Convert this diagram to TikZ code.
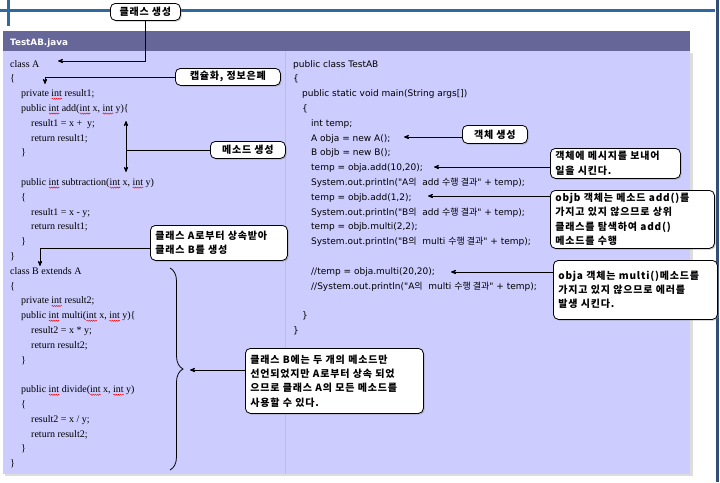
\documentclass[tikz,border=0pt]{standalone}
\usepackage{fontspec}
\setmainfont{Liberation Serif}
\newfontfamily\verd{DejaVu Sans}
\newfontfamily\krfont{Noto Sans CJK KR}
\newfontfamily\krbold{Noto Sans CJK KR}[LetterSpace=8]
\usetikzlibrary{arrows,shadows,decorations.pathreplacing,decorations.pathmorphing}
\definecolor{barblue}{RGB}{47,105,160}
\definecolor{edgeblue}{RGB}{50,78,120}
\definecolor{titlebar}{RGB}{102,102,153}
\definecolor{panel}{RGB}{204,204,255}
\definecolor{panelshade}{RGB}{221,221,221}
\definecolor{divider}{RGB}{190,190,215}
\newlength\sqlen
\newcommand\sq[1]{\settowidth\sqlen{#1}\rlap{\tikz[baseline=0pt]\draw[red, line width=0.45pt,
  decorate, decoration={snake, amplitude=0.6pt, segment length=2.2pt}]
  (0pt,-2.2pt) -- (\sqlen,-2.2pt);}#1}
\newcommand\ko[1]{{\krfont #1}}
\tikzset{
  codeL/.style = {anchor=base west, inner sep=0pt, font=\fontsize{10}{12}\selectfont},
  codeR/.style = {anchor=base west, inner sep=0pt, font=\verd\fontsize{9}{11}\selectfont},
  callout/.style = {draw=black, fill=white, thick, rounded corners=5pt,
    anchor=north west, inner xsep=5pt, inner ysep=0pt,
    font=\krbold\bfseries\fontsize{10}{14.3}\selectfont,
    drop shadow={shadow xshift=1.2pt, shadow yshift=-1.2pt, fill=black!45}},% bulle
  ptr/.style = {->, >=stealth', thick, black}
}
\begin{document}
\begin{tikzpicture}[x=1pt,y=-1pt]
\useasboundingbox (0,0) rectangle (720,482);
% cadre
\fill[barblue] (0,9) rectangle (715,12);
\fill[barblue] (7,0) rectangle (10,26);
\fill[edgeblue] (716,0) rectangle (719,482);
\fill[panelshade] (5,53) rectangle (693,476);
\fill[panel] (3,51) rectangle (690,474);
\fill[titlebar] (3,31) rectangle (690,51);
\draw[divider] (285,51) -- (285,474);
\node[anchor=base west, inner sep=0pt, text=white,
  font=\verd\bfseries\fontsize{8.8}{10}\selectfont] (title) at (10,45) {TestAB.java};

% code gauche
\foreach \row/\x/\txt in {
  0/10/{class A}, 1/10/{\{}, 2/21/{private \sq{int} result1;},
  3/21/{public \sq{int} add(\sq{int} x, \sq{int} y)\{}, 4/31/{result1 = x + \ y;},
  5/31/{return result1;}, 6/21/{\}},
  8/21/{public \sq{int} subtraction(\sq{int} x, \sq{int} y)}, 9/21/{\{},
  10/31/{result1 = x - y;}, 11/31/{return result1;}, 12/21/{\}}, 13/10/{\}},
  14/10/{class B extends A}, 15/10/{\{}, 16/21/{private \sq{int} result2;},
  17/21/{public \sq{int} multi(\sq{int} x, \sq{int} y)\{}, 18/31/{result2 = x * y;},
  19/31/{return result2;}, 20/21/{\}},
  22/21/{public \sq{int} divide(\sq{int} x, \sq{int} y)}, 23/21/{\{},
  24/31/{result2 = x / y;}, 25/31/{return result2;}, 26/21/{\}}, 27/10/{\}}}
  \node[codeL] (l\row) at (\x,{67+14.8*\row}) {\txt};

% code droite
\foreach \row/\x/\txt in {
  0/293/{public class TestAB}, 1/293/{\{},
  2/302/{public static void main(String args[])}, 3/302/{\{},
  4/311/{int temp;}, 5/311/{A obja = new A();}, 6/311/{B objb = new B();},
  7/311/{temp = obja.add(10,20);},
  8/311/{System.out.println("A\ko{의} \ add \ko{수행 결과}" + temp);},
  9/311/{temp = objb.add(1,2);},
  10/311/{System.out.println("B\ko{의} \ add \ko{수행 결과}" + temp);},
  11/311/{temp = objb.multi(2,2);},
  12/311/{System.out.println("B\ko{의} \ multi \ko{수행 결과}" + temp);},
  14/311/{//temp = obja.multi(20,20);},
  15/311/{//System.out.println("A\ko{의} \ multi \ko{수행 결과}" + temp);},
  17/302/{\}}, 18/293/{\}}}
  \node[codeR] (r\row) at (\x,{67+14.8*\row}) {\txt};

% bulles
\node[callout, minimum width=70pt, minimum height=17pt] (cls) at (110,3) {클래스 생성};
\node[callout, minimum width=105pt, minimum height=17pt] (caps) at (175,68) {캡슐화, 정보은폐};
\node[callout, minimum width=75pt, minimum height=17pt] (meth) at (210,141) {메소드 생성};
\node[callout, text width=127pt, align=left, minimum height=35pt] (inh) at (150,225)
  {클래스 A로부터 상속받아\\클래스 B를 생성};
\node[callout, text width=168pt, align=left, minimum height=65pt] (useB) at (245,348)
  {클래스 B에는 두 개의 메소드만\\선언되었지만 A로부터 상속 되었\\으므로 클래스 A의 모든 메소드를\\사용할 수 있다.};
\node[callout, minimum width=65pt, minimum height=18pt] (obj) at (462,125) {객체 생성};
\node[callout, text width=120pt, align=left, minimum height=30pt] (msg) at (550,148)
  {객체에 메시지를 보내어\\일을 시킨다.};
\node[callout, text width=154pt, align=left, minimum height=58pt] (objbx) at (550,190)
  {objb 객체는 메소드 add()를\\가지고 있지 않으므로 상위\\클래스를 탐색하여 add()\\메소드를 수행};
\node[callout, text width=154pt, align=left, minimum height=59pt] (objax) at (553,260)
  {obja 객체는 multi()메소드를\\가지고 있지 않으므로 에러를\\발생 시킨다.};

% pointeurs
\coordinate (tClsA) at (58,61);
\coordinate (tBrA) at (45,84);
\coordinate (mTop) at (126,121);
\coordinate (mBot) at (126,172);
\coordinate (tClsB) at (40,266);
\coordinate (brT) at (170,268);
\coordinate (brB) at (170,470);
\coordinate (tBr) at (190,370);
\coordinate (tObj) at (404,137);
\coordinate (tMsg) at (434,167);
\coordinate (tObjb) at (428,196);
\coordinate (tObja) at (451,272);

\draw[ptr] (cls.south) |- (tClsA);
\draw[ptr] (caps.west) -| (tBrA);
\draw[ptr, <->] (mTop) -- (mBot);
\draw[thick] (meth.west) -- (meth.west -| mTop);
\draw[ptr] ([yshift=-5.5pt]inh.west) -| (tClsB);
\draw[thick, decorate, decoration={brace, amplitude=13pt}] (brT) -- (brB);
\draw[ptr] (useB.west |- tBr) -- (tBr);
\draw[ptr] (obj.west |- tObj) -- (tObj);
\draw[ptr] (msg.west |- tMsg) -- (tMsg);
\draw[ptr] (objbx.west |- tObjb) -- (tObjb);
\draw[ptr] (objax.west |- tObja) -- (tObja);
\end{tikzpicture}
\end{document}
